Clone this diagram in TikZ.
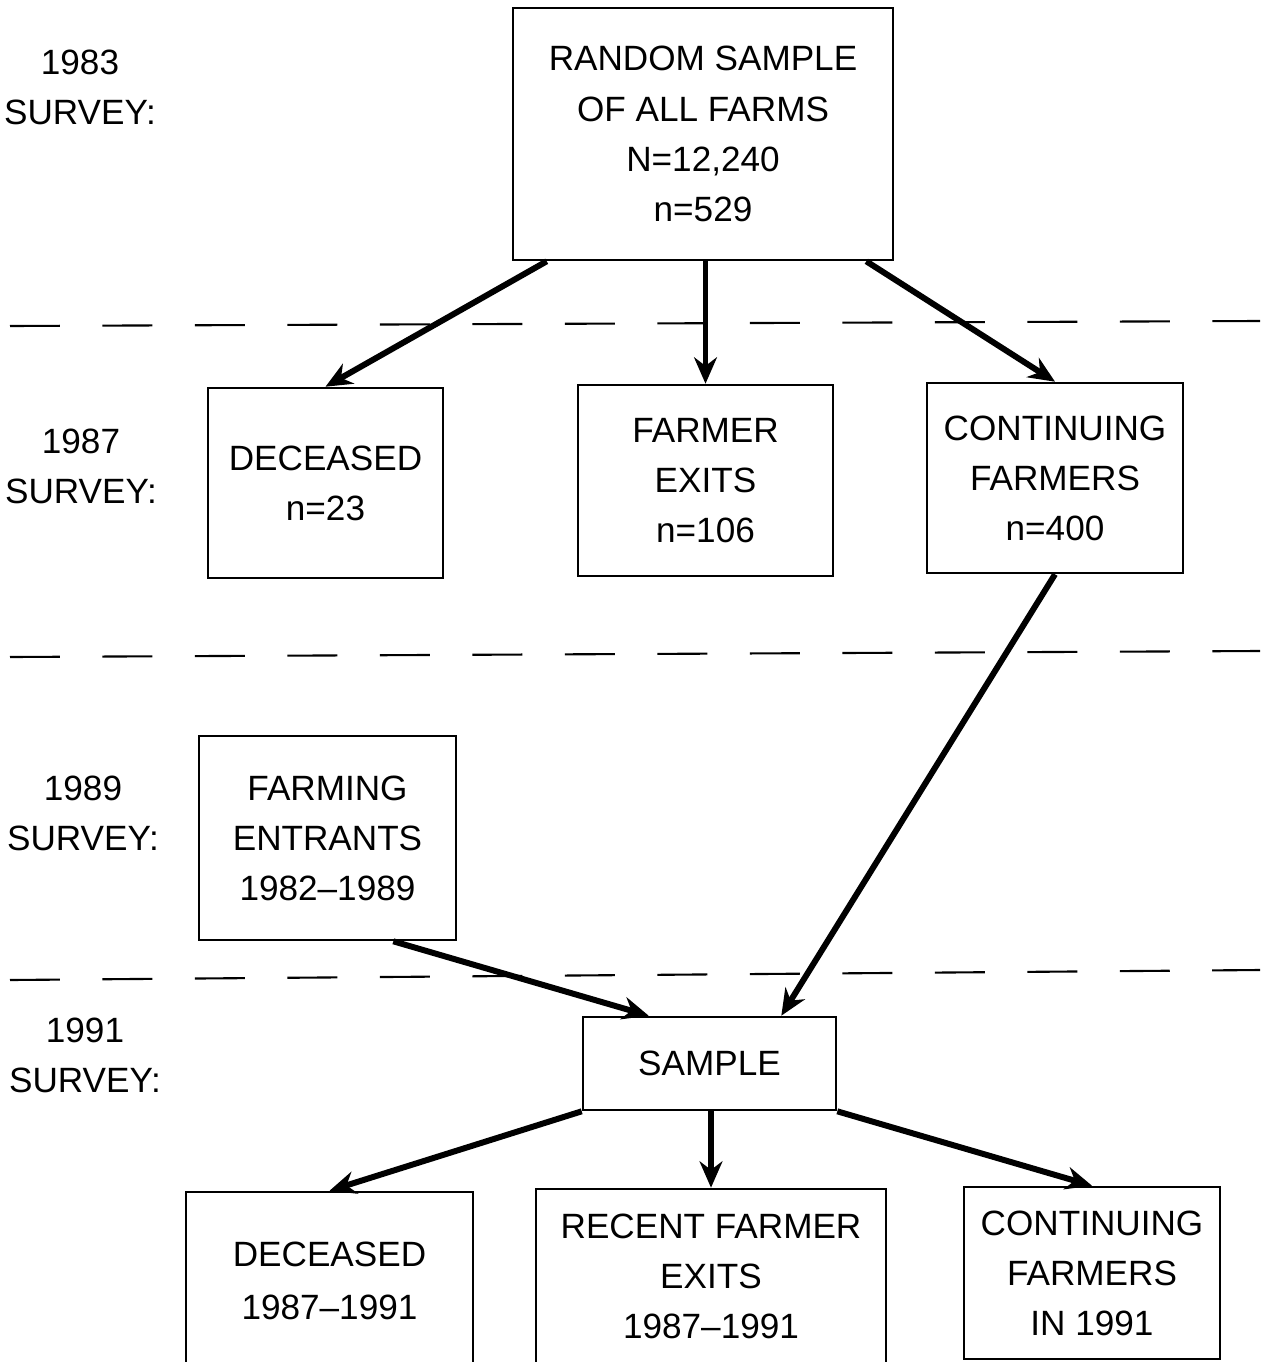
\documentclass[tikz,border=0pt]{standalone}
\usepackage{fontspec}
\setmainfont{Liberation Sans}
\usetikzlibrary{arrows.meta,calc}

\begin{document}
\begin{tikzpicture}[x=0.02cm, y=-0.02cm, >={Stealth[length=15pt,width=13pt]},
  font=\fontsize{20}{28.5}\selectfont,
  box/.style={draw, line width=1.5pt, align=center, inner sep=0pt},
  flow/.style={->, line width=3.4pt},
  dashline/.style={line width=1.2pt, dash pattern=on 1cm off 0.85cm}]
  \useasboundingbox (0,0) rectangle (1261,1362);
  % survey years
  \node[align=center] (s83) at (80,87) {1983\\SURVEY:};
  \node[align=center] (s87) at (81,466) {1987\\SURVEY:};
  \node[align=center] (s89) at (83,813) {1989\\SURVEY:};
  \node[align=center] (s91) at (85,1055) {1991\\SURVEY:};
  % boundaries between surveys
  \draw[dashline] (10,326) -- (1260,321);
  \draw[dashline] (10,657) -- (1260,651);
  \draw[dashline] (10,980) -- (1260,970);
  % boxes
  \node[box, minimum width=7.6cm, minimum height=5.04cm] (rand) at (703,134) {RANDOM SAMPLE\\OF ALL FARMS\\N=12,240\\n=529};
  \node[box, minimum width=4.7cm, minimum height=3.8cm] (d87) at (325.5,483) {DECEASED\\n=23};
  \node[box, minimum width=5.1cm, minimum height=3.82cm] (e87) at (705.5,480.5) {FARMER\\EXITS\\n=106};
  \node[box, minimum width=5.12cm, minimum height=3.8cm] (c87) at (1055,478) {CONTINUING\\FARMERS\\n=400};
  \node[box, minimum width=5.14cm, minimum height=4.08cm] (ent) at (327.5,838) {FARMING\\ENTRANTS\\1982--1989};
  \node[box, minimum width=5.06cm, minimum height=1.86cm] (smp) at (709.5,1063.5) {SAMPLE};
  \node[box, minimum width=5.74cm, minimum height=3.56cm] (d91) at (329.5,1281) {DECEASED\\[2pt]1987--1991};
  \node[box, minimum width=7cm, minimum height=3.5cm] (r91) at (711,1276.5) {RECENT FARMER\\EXITS\\1987--1991};
  \node[box, minimum width=5.12cm, minimum height=3.44cm] (c91) at (1092,1273) {CONTINUING\\FARMERS\\IN 1991};
  % flows
  \draw[flow] ([xshift=0.7cm]rand.south west) -- (d87.north);
  \draw[flow] (rand.south -| e87.north) -- (e87.north);
  \draw[flow] ([xshift=-0.56cm]rand.south east) -- (c87.north);
  \draw[flow] (c87.south) -- ([xshift=-1.12cm]smp.north east);
  \draw[flow] ([xshift=-1.28cm]ent.south east) -- ([xshift=1.34cm]smp.north west);
  \draw[flow] (smp.south west) -- (d91.north);
  \draw[flow] (smp.south -| r91.north) -- (r91.north);
  \draw[flow] (smp.south east) -- (c91.north);
\end{tikzpicture}
\end{document}
